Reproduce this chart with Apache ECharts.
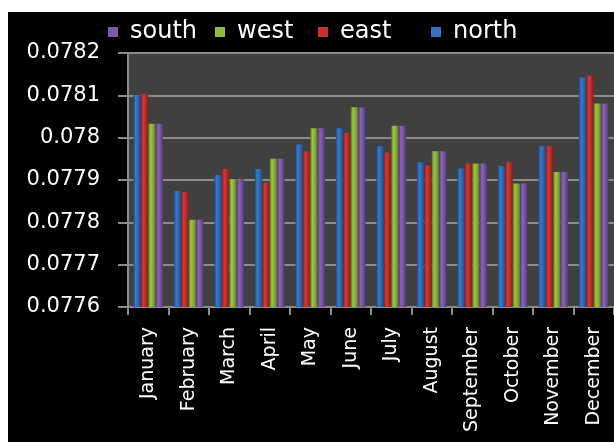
<!DOCTYPE html>
<html>
<head>
<meta charset="utf-8">
<script src="https://cdn.jsdelivr.net/npm/echarts@6/dist/echarts.min.js"></script>
<style>
  html, body { margin: 0; padding: 0; background: #ffffff; width: 614px; height: 442px; overflow: hidden; }
  #chart { position: absolute; left: 8px; top: 12px; width: 606px; height: 430px; background: #000000; }
</style>
</head>
<body>
<div id="chart"></div>
<script>
// Monthly values per region
const months = ['January', 'February', 'March', 'April', 'May', 'June', 'July',
  'August', 'September', 'October', 'November', 'December'];
const north = [0.07810, 0.077874, 0.077912, 0.077926, 0.077984, 0.078022, 0.07798,
  0.077942, 0.077927, 0.077933, 0.07798, 0.078142];
const east = [0.078103, 0.077871, 0.077926, 0.077894, 0.077968, 0.078011, 0.077965,
  0.077935, 0.077939, 0.077942, 0.07798, 0.078146];
const west = [0.078033, 0.077806, 0.077902, 0.07795, 0.078022, 0.078072, 0.078028,
  0.077968, 0.077939, 0.077892, 0.077919, 0.078081];
const south = [0.078033, 0.077806, 0.077902, 0.07795, 0.078022, 0.078071, 0.078028,
  0.077968, 0.077939, 0.077892, 0.077919, 0.078081];
const yTicks = { min: 0.0776, max: 0.0782, step: 0.0001 };

const FONT = 'DejaVu Sans';

// cylinder-like horizontal shading for each bar
function shade(edge, light, mid) {
  return {
    type: 'linear', x: 0, y: 0, x2: 1, y2: 0,
    colorStops: [
      { offset: 0, color: edge },
      { offset: 0.3, color: light },
      { offset: 0.65, color: mid },
      { offset: 1, color: edge }
    ]
  };
}

const palette = {
  north: shade('#1d4a85', '#3a7acb', '#2d66ad'),
  east: shade('#861a18', '#d23b37', '#b52b28'),
  west: shade('#5a7822', '#9cc448', '#85aa37'),
  south: shade('#4f376f', '#8a66b3', '#7352a0')
};
const swatch = { north: '#3470bd', east: '#c4312e', west: '#92bb40', south: '#7d5aa8' };

function barSeries(name, data) {
  return {
    name: name,
    type: 'bar',
    data: data,
    barGap: '0%',
    barCategoryGap: '27%',
    itemStyle: { color: palette[name] }
  };
}

function legendAt(name, left) {
  return {
    data: [{ name: name, itemStyle: { color: swatch[name] } }],
    left: left,
    top: 8,
    padding: 0,
    icon: 'rect',
    itemWidth: 10,
    itemHeight: 10,
    textStyle: { color: '#ffffff', fontFamily: FONT, fontSize: 24, padding: [0, 0, 0, 7] }
  };
}

const chart = echarts.init(document.getElementById('chart'), null, { renderer: 'canvas' });
chart.setOption({
  backgroundColor: '#000000',
  animation: false,
  legend: [
    legendAt('south', 100),
    legendAt('west', 207),
    legendAt('east', 310),
    legendAt('north', 423)
  ],
  grid: {
    left: 120, top: 41, width: 494, height: 254,
    show: true, backgroundColor: '#404040', borderWidth: 0
  },
  xAxis: {
    type: 'category',
    data: months,
    axisLine: { lineStyle: { color: '#8c8c8c', width: 2 } },
    axisTick: { show: true, length: 8, lineStyle: { color: '#8c8c8c', width: 2 } },
    axisLabel: {
      rotate: 90, color: '#ffffff', fontFamily: FONT, fontSize: 19, margin: 20,
      interval: 0, padding: [8, 0, 0, 0]
    }
  },
  yAxis: {
    type: 'value',
    min: yTicks.min,
    max: yTicks.max,
    interval: yTicks.step,
    axisLine: { show: true, lineStyle: { color: '#8c8c8c', width: 2 } },
    axisTick: { show: true, length: 10, lineStyle: { color: '#8c8c8c', width: 2 } },
    splitLine: { show: true, lineStyle: { color: '#8c8c8c', width: 2 } },
    axisLabel: {
      color: '#ffffff', fontFamily: FONT, fontSize: 21, margin: 28,
      formatter: v => String(+v.toFixed(4))
    }
  },
  series: [
    barSeries('north', north),
    barSeries('east', east),
    barSeries('west', west),
    barSeries('south', south)
  ]
});
</script>
</body>
</html>
